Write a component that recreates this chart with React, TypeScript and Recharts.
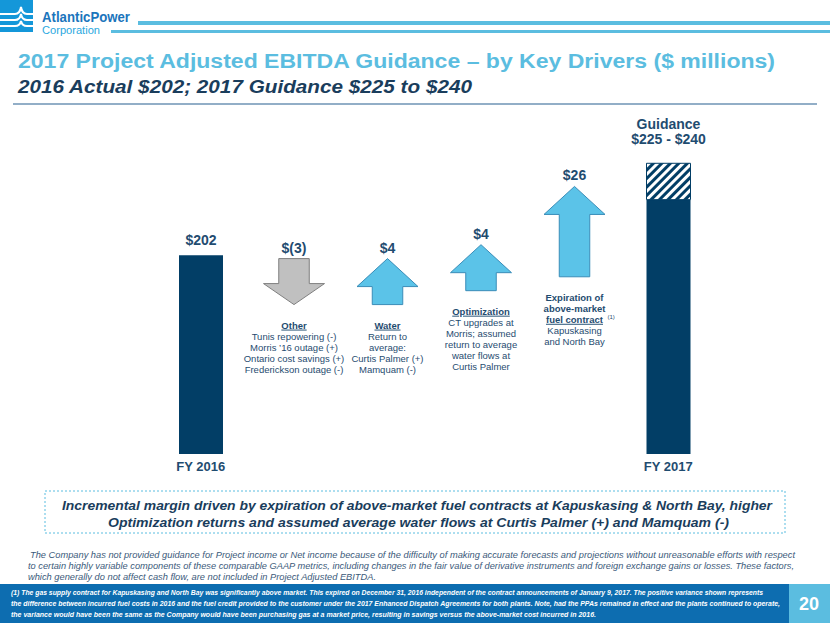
import { Bar, ComposedChart, LabelList, XAxis, YAxis } from "recharts"

// Project Adjusted EBITDA, $ millions
const categories = ["FY 2016", "Other", "Water", "Optimization", "Fuel contract", "FY 2017"]
const axisLabels = ["FY 2016", "", "", "", "", "FY 2017"]
const actual2016 = 202
const guidanceLow = 225
const guidanceHigh = 240

const driverNames = ["Other", "Water", "Optimization", "Fuel contract"]
const driverValues = [-3, 4, 4, 26]
const driverHeadings = [["Other"], ["Water"], ["Optimization"], ["Expiration of", "above-market", "fuel contract"]]
const driverLines = [
  ["Tunis repowering (-)", "Morris \u201916 outage (+)", "Ontario cost savings (+)", "Frederickson outage (-)"],
  ["Return to", "average:", "Curtis Palmer (+)", "Mamquam (-)"],
  ["CT upgrades at", "Morris; assumed", "return to average", "water flows at", "Curtis Palmer"],
  ["Kapuskasing", "and North Bay"],
]

const NAVY = "#023e66"
const LABEL = "#1f4c70"
const LIGHT = "#5bbde0"
const FONT = "'Liberation Sans', Arial, sans-serif"

const barData = categories.map((name, i) => ({
  name,
  base: i === 0 ? actual2016 : i === categories.length - 1 ? guidanceLow : undefined,
  band: i === categories.length - 1 ? guidanceHigh - guidanceLow : undefined,
}))

let running = actual2016
const arrowData = categories.map((name) => {
  const k = driverNames.indexOf(name)
  if (k < 0) return { name }
  const start = running
  running += driverValues[k]
  return { name, idx: k, delta: driverValues[k], span: [Math.min(start, running), Math.max(start, running)] }
})

const fmt = (v: number) => (v < 0 ? `$(${-v})` : `$${v}`)

const ArrowShape = (props: any) => {
  const { x, y, width, height, payload } = props
  if (payload == null || payload.delta == null) return <g />
  const cx = x + width / 2
  const top = y
  const bottom = y + height
  const up = payload.delta > 0
  const head = up ? 28 : 21
  const hw = width / 2
  const sw = width / 4
  const pts = up
    ? [[cx, top], [cx + hw, top + head], [cx + sw, top + head], [cx + sw, bottom], [cx - sw, bottom], [cx - sw, top + head], [cx - hw, top + head]]
    : [[cx - sw, top], [cx + sw, top], [cx + sw, bottom - head], [cx + hw, bottom - head], [cx, bottom], [cx - hw, bottom - head], [cx - sw, bottom - head]]
  const headings = driverHeadings[payload.idx]
  const lines = driverLines[payload.idx]
  const y0 = bottom + 24
  return (
    <g>
      <polygon
        points={pts.map((p) => p.join(",")).join(" ")}
        fill={up ? "#5bc3e8" : "#c0c0c0"}
        stroke={up ? "#3a8db8" : "#7f7f7f"}
        strokeWidth={1}
      />
      <text x={cx} y={top - 6} textAnchor="middle" fontSize={14} fontWeight={700} fill={LABEL}>
        {fmt(payload.delta)}
      </text>
      {headings.map((h, i) => (
        <text
          key={"h" + i}
          x={cx}
          y={y0 + i * 11}
          textAnchor="middle"
          fontSize={9.5}
          fontWeight={700}
          fill={LABEL}
          style={{ textDecoration: i === headings.length - 1 ? "underline" : "none" }}
        >
          {h}
        </text>
      ))}
      {payload.idx === 3 && (
        <text x={cx + 33} y={y0 + 2 * 11 - 4} fontSize={6} fill={LABEL}>
          (1)
        </text>
      )}
      {lines.map((t, i) => (
        <text key={"l" + i} x={cx} y={y0 + (headings.length + i) * 11} textAnchor="middle" fontSize={9.5} fill={LABEL}>
          {t}
        </text>
      ))}
    </g>
  )
}

const FyLabel = (props: any) => {
  const { x, y, width, value } = props
  if (value !== actual2016) return null
  return (
    <text x={x + width / 2} y={y - 10} textAnchor="middle" fontSize={14} fontWeight={700} fill={LABEL}>
      {fmt(value)}
    </text>
  )
}

const GuidanceLabel = (props: any) => {
  const { x, y, width, value } = props
  if (typeof value !== "number") return null
  return (
    <text x={x + width / 2} textAnchor="middle" fontSize={14} fontWeight={700} fill={LABEL}>
      <tspan x={x + width / 2} y={y - 34}>Guidance</tspan>
      <tspan x={x + width / 2} y={y - 19}>{`$${guidanceLow} - $${guidanceHigh}`}</tspan>
    </text>
  )
}

const disclaimer = [
  "The Company has not provided guidance for Project income or Net income because of the difficulty of making accurate forecasts and projections without unreasonable efforts with respect",
  "to certain highly variable components of these comparable GAAP metrics, including changes in the fair value of derivative instruments and foreign exchange gains or losses.  These factors,",
  "which generally do not affect cash flow, are not included in Project Adjusted EBITDA.",
]
const footnote = [
  "(1) The gas supply contract for Kapuskasing and North Bay was significantly  above market.  This expired on December 31, 2016 independent of the contract announcements of January 9, 2017.  The positive variance shown represents",
  "the difference between incurred fuel costs in 2016 and the fuel credit provided to the customer under the 2017 Enhanced Dispatch Agreements for both plants.  Note, had the PPAs remained in effect and the plants continued to operate,",
  "the variance would have been the same as the Company would have been purchasing gas at a market price, resulting in savings versus the above-market  cost incurred in 2016.",
]

function Slide() {
  return (
    <svg width={830} height={623} style={{ position: "absolute", left: 0, top: 0 }} fontFamily={FONT}>
      <rect width={830} height={623} fill="#ffffff" />
      {/* logo */}
      <rect x={0} y={0} width={33} height={32} fill="#1497d9" />
      {[14, 20, 26].map((ly, i) => (
        <path
          key={ly}
          d={`M0 ${ly} H15 Q20 ${ly} 21 ${ly - 7 + i} Q22 ${ly} 27 ${ly} H33`}
          stroke="#ffffff"
          strokeWidth={2}
          fill="none"
        />
      ))}
      <text x={42} y={22} fontSize={14} fontWeight={700} fill="#1b75bc" textLength={88} lengthAdjust="spacingAndGlyphs">
        AtlanticPower
      </text>
      <text x={42} y={34} fontSize={10} fill="#29a8e0" textLength={58} lengthAdjust="spacingAndGlyphs">
        Corporation
      </text>
      <rect x={138} y={21} width={692} height={4} fill={LIGHT} />
      <rect x={111} y={30} width={719} height={3} fill={LIGHT} />

      {/* titles */}
      <text x={18} y={68} fontSize={20} fontWeight={700} fill={LIGHT} textLength={757} lengthAdjust="spacingAndGlyphs">
        2017 Project Adjusted EBITDA Guidance – by Key Drivers ($ millions)
      </text>
      <text x={18} y={93} fontSize={19} fontWeight={700} fontStyle="italic" fill="#1a3d5c" textLength={454} lengthAdjust="spacingAndGlyphs">
        2016 Actual $202; 2017 Guidance $225 to $240
      </text>
      <line x1={13} x2={817} y1={104} y2={104} stroke="#6e93b5" strokeWidth={1.5} />

      {/* summary box */}
      <rect x={45} y={491} width={740} height={42} fill="none" stroke={LIGHT} strokeDasharray="2 2" />
      <text x={62} y={510} fontSize={13} fontWeight={700} fontStyle="italic" fill="#1a3d5c" textLength={710} lengthAdjust="spacingAndGlyphs">
        Incremental margin driven by expiration of above-market fuel contracts at Kapuskasing &amp; North Bay, higher
      </text>
      <text x={108} y={527} fontSize={13} fontWeight={700} fontStyle="italic" fill="#1a3d5c" textLength={621} lengthAdjust="spacingAndGlyphs">
        Optimization returns and assumed average water flows at Curtis Palmer (+) and Mamquam (-)
      </text>

      {/* disclaimer */}
      {disclaimer.map((t, i) => (
        <text
          key={i}
          x={i === 0 ? 30 : 28}
          y={558 + i * 11}
          fontSize={9.2}
          fontStyle="italic"
          fill="#3b5a7a"
          textLength={[765, 766, 348][i]}
          lengthAdjust="spacingAndGlyphs"
        >
          {t}
        </text>
      ))}

      {/* footer */}
      <rect x={0} y={584} width={789} height={39} fill="#0d6db0" />
      <rect x={789} y={584} width={41} height={39} fill={LIGHT} />
      {footnote.map((t, i) => (
        <text
          key={i}
          x={11}
          y={595 + i * 11}
          fontSize={6.8}
          fontWeight={700}
          fontStyle="italic"
          fill="#ffffff"
          textLength={[752, 769, 585][i]}
          lengthAdjust="spacingAndGlyphs"
        >
          {t}
        </text>
      ))}
      <text x={809} y={610} textAnchor="middle" fontSize={18} fontWeight={700} fill="#ffffff">
        20
      </text>
    </svg>
  )
}

export default function App() {
  const margin = { top: 110, right: 115, bottom: 16, left: 154 }
  return (
    <div style={{ position: "absolute", left: 0, top: 0, width: 830, height: 623, fontFamily: FONT, overflow: "hidden" }}>
      <Slide />
      <div style={{ position: "absolute", left: 0, top: 0 }}>
        <ComposedChart width={830} height={500} data={barData} margin={margin}>
          <defs>
            <pattern id="hatch" patternUnits="userSpaceOnUse" width={6} height={6} patternTransform="rotate(45)">
              <rect width={6} height={6} fill="#ffffff" />
              <rect width={3} height={6} fill={NAVY} />
            </pattern>
          </defs>
          <XAxis
            dataKey="name"
            height={30}
            interval={0}
            axisLine={false}
            tickLine={false}
            tickFormatter={(_v: string, i: number) => axisLabels[i]}
            tick={{ fill: LABEL, fontSize: 13, fontWeight: 700 }}
          />
          <YAxis hide domain={[120, 262]} allowDataOverflow />
          <Bar dataKey="base" stackId="fy" fill={NAVY} barSize={44} isAnimationActive={false}>
            <LabelList dataKey="base" content={FyLabel} />
          </Bar>
          <Bar dataKey="band" stackId="fy" fill="url(#hatch)" stroke={NAVY} strokeWidth={1} barSize={44} isAnimationActive={false}>
            <LabelList dataKey="band" content={GuidanceLabel} />
          </Bar>
        </ComposedChart>
      </div>
      <div style={{ position: "absolute", left: 0, top: 0 }}>
        <ComposedChart width={830} height={500} data={arrowData} margin={{ ...margin, bottom: 46 }}>
          <XAxis dataKey="name" hide />
          <YAxis yAxisId="wf" hide domain={[156, 255]} allowDataOverflow />
          <Bar
            yAxisId="wf"
            dataKey="span"
            barSize={61}
            minPointSize={46}
            shape={ArrowShape}
            isAnimationActive={false}
          />
        </ComposedChart>
      </div>
    </div>
  )
}
